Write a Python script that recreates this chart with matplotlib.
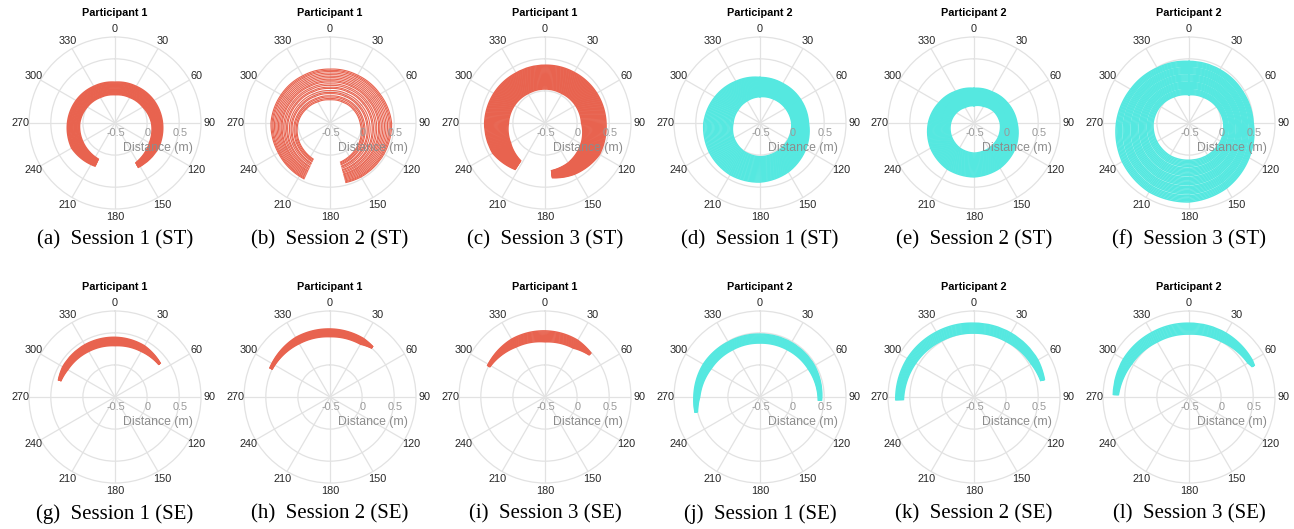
import numpy as np
import matplotlib.pyplot as plt
from matplotlib.transforms import ScaledTranslation

plt.rcParams['font.family'] = ['Liberation Sans', 'DejaVu Sans']

red = '#E8634F'
cyan = '#55E8E0'

# lap positions across each band (0 = inner edge, 1 = outer edge)
laps_se = [0.0, 0.1, 0.2, 0.3, 0.4, 0.5, 0.6, 0.7, 0.8, 0.9, 1.0]
laps_a = [0.0, 0.07, 0.13, 0.2, 0.26, 0.33, 0.4, 0.46, 0.53, 0.6, 0.66, 0.73, 0.8, 0.86, 0.93, 1.0]
laps_b = [0.0, 0.04, 0.09, 0.13, 0.2, 0.24, 0.3, 0.37, 0.41, 0.47, 0.52, 0.58, 0.62,
          0.67, 0.72, 0.77, 0.82, 0.87, 0.92, 0.96, 1.0]
laps_wide = [0.0, 0.04, 0.08, 0.12, 0.16, 0.2, 0.24, 0.28, 0.32, 0.36, 0.4, 0.44, 0.48,
             0.52, 0.56, 0.6, 0.64, 0.68, 0.72, 0.76, 0.8, 0.84, 0.88, 0.92, 0.96, 1.0]
laps_f = [0.0, 0.03, 0.06, 0.09, 0.12, 0.15, 0.19, 0.22, 0.25, 0.28, 0.31, 0.34, 0.37,
          0.41, 0.44, 0.47, 0.5, 0.53, 0.56, 0.59, 0.63, 0.66, 0.69, 0.72, 0.75, 0.78,
          0.81, 0.85, 0.88, 0.91, 0.94, 0.97, 1.0]

# band edges (radius in m) at waypoint angles (deg, clockwise from north, unwrapped)
ang_a = [205, 240, 270, 300, 330, 360, 390, 420, 450, 480, 512]
in_a = [0.12, 0.08, 0.05, 0.0, -0.04, -0.06, -0.04, 0.0, 0.07, 0.12, 0.2]
out_a = [0.24, 0.28, 0.24, 0.2, 0.16, 0.136, 0.16, 0.2, 0.24, 0.28, 0.28]

ang_b = [205, 240, 270, 300, 330, 360, 390, 420, 450, 480, 510, 525]
in_b = [0.12, 0.06, 0.0, -0.07, -0.12, -0.14, -0.12, -0.08, -0.03, 0.04, 0.1, 0.13]
out_b = [0.46, 0.43, 0.42, 0.38, 0.35, 0.34, 0.36, 0.4, 0.46, 0.47, 0.47, 0.46]

ang_c = [213, 240, 270, 300, 330, 360, 390, 420, 450, 480, 510, 532]
in_c = [0.2, 0.12, 0.07, 0.05, 0.03, 0.03, 0.03, 0.05, 0.07, 0.15, 0.22, 0.25]
out_c = [0.36, 0.44, 0.44, 0.42, 0.4, 0.4, 0.41, 0.43, 0.45, 0.48, 0.42, 0.36]

ang_ring = [0, 30, 60, 90, 120, 150, 180, 210, 240, 270, 300, 330, 360]
in_d = [-0.09, -0.07, -0.04, -0.005, 0.01, 0.02, 0.026, 0.01, -0.03, -0.08, -0.1, -0.1, -0.09]
out_d = [0.21, 0.21, 0.23, 0.255, 0.32, 0.38, 0.42, 0.43, 0.41, 0.375, 0.31, 0.25, 0.21]

in_e = [-0.23, -0.2, -0.14, -0.09, -0.06, -0.04, -0.03, -0.05, -0.09, -0.135, -0.18, -0.22, -0.23]
out_e = [0.04, 0.06, 0.11, 0.17, 0.25, 0.31, 0.34, 0.33, 0.28, 0.21, 0.13, 0.07, 0.04]

in_f = [-0.06, -0.04, 0.0, 0.04, 0.07, 0.08, 0.08, 0.09, 0.08, 0.06, 0.02, -0.03, -0.06]
out_f = [0.46, 0.46, 0.47, 0.5, 0.58, 0.67, 0.73, 0.74, 0.7, 0.63, 0.55, 0.49, 0.46]

ang_g = [287, 300, 330, 360, 390, 413]
in_g = [0.38, 0.35, 0.32, 0.3, 0.32, 0.35]
out_g = [0.42, 0.44, 0.44, 0.43, 0.42, 0.38]

ang_h = [296, 330, 360, 390, 400]
in_h = [0.5, 0.46, 0.44, 0.45, 0.5]
out_h = [0.54, 0.57, 0.56, 0.55, 0.53]

ang_i = [299, 330, 360, 390, 406]
in_i = [0.48, 0.4, 0.36, 0.38, 0.45]
out_i = [0.52, 0.54, 0.53, 0.52, 0.49]

ang_j = [257, 270, 300, 330, 360, 390, 420, 453]
in_j = [0.5, 0.44, 0.38, 0.35, 0.34, 0.35, 0.37, 0.41]
out_j = [0.54, 0.53, 0.52, 0.49, 0.48, 0.48, 0.48, 0.46]

ang_k = [268, 300, 330, 360, 390, 420, 436]
in_k = [0.6, 0.55, 0.51, 0.495, 0.5, 0.53, 0.57]
out_k = [0.72, 0.7, 0.67, 0.65, 0.65, 0.65, 0.63]

ang_l = [272, 300, 330, 360, 390, 420, 424]
in_l = [0.6, 0.53, 0.49, 0.48, 0.5, 0.56, 0.59]
out_l = [0.68, 0.68, 0.66, 0.65, 0.65, 0.64, 0.63]

panels = [
    ('a', 1, 'Session 1 (ST)', red, ang_a, in_a, out_a, laps_a),
    ('b', 1, 'Session 2 (ST)', red, ang_b, in_b, out_b, laps_b),
    ('c', 1, 'Session 3 (ST)', red, ang_c, in_c, out_c, laps_wide),
    ('d', 2, 'Session 1 (ST)', cyan, ang_ring, in_d, out_d, laps_wide),
    ('e', 2, 'Session 2 (ST)', cyan, ang_ring, in_e, out_e, laps_wide),
    ('f', 2, 'Session 3 (ST)', cyan, ang_ring, in_f, out_f, laps_f),
    ('g', 1, 'Session 1 (SE)', red, ang_g, in_g, out_g, laps_se),
    ('h', 1, 'Session 2 (SE)', red, ang_h, in_h, out_h, laps_se),
    ('i', 1, 'Session 3 (SE)', red, ang_i, in_i, out_i, laps_se),
    ('j', 2, 'Session 1 (SE)', cyan, ang_j, in_j, out_j, laps_se),
    ('k', 2, 'Session 2 (SE)', cyan, ang_k, in_k, out_k, laps_se),
    ('l', 2, 'Session 3 (SE)', cyan, ang_l, in_l, out_l, laps_se),
]

r_ticks = [-0.5, 0, 0.5]
r_tick_labels = ['-0.5', '0', '0.5']
theta_ticks = list(range(0, 360, 30))

W, H = 1294, 529
R = 86                      # axes radius in pixels
col_x = [115, 330, 545, 760, 974, 1189]
row_y = [123, 397]
grid_c = '#e2e2e2'

fig = plt.figure(figsize=(W / 100, H / 100), dpi=100)

for i, (letter, part, sess, color, ang, r_in, r_out, laps) in enumerate(panels):
    row, col = divmod(i, 6)
    cx, cy = col_x[col], row_y[row]
    ax = fig.add_axes([(cx - R) / W, 1 - (cy + R) / H, 2 * R / W, 2 * R / H],
                      projection='polar')
    ax.set_theta_zero_location('N')
    ax.set_theta_direction(-1)
    ax.set_rlim(-0.5, 0.84)

    th = np.radians(ang)
    r_in = np.array(r_in)
    r_out = np.array(r_out)
    lw = 0.8 if letter == 'b' else 1.1
    for f in laps:
        ln, = ax.plot(th, r_in + f * (r_out - r_in), color=color, lw=lw)
        ln.get_path()._interpolation_steps = 16

    ax.set_thetagrids(theta_ticks, labels=[])
    ax.set_rticks([0, 0.5])
    ax.set_yticklabels([])
    ax.grid(color=grid_c, lw=0.9)
    ax.spines['polar'].set_color(grid_c)
    ax.spines['polar'].set_linewidth(0.9)
    ax.tick_params(length=0)

    # angle labels centred on a fixed circle outside the rim
    for t in theta_ticks:
        ax.text(np.radians(t), 0.97, str(t), ha='center', va='center',
                fontsize=7.8, color='#262626', clip_on=False)

    # radial labels along the 90 deg spoke, shifted below it
    shift = ScaledTranslation(0.01, -0.10, fig.dpi_scale_trans)
    for rv, lab in zip(r_ticks, r_tick_labels):
        ax.text(np.radians(90), rv, lab, ha='center', va='center',
                fontsize=7.8, color='#999999', transform=ax.transData + shift)
    ax.text(0.75, 0.355, 'Distance (m)', ha='center', va='center',
            fontsize=8.8, color='#8c8c8c', transform=ax.transAxes)

    fig.text(cx / W, 1 - (cy - 110) / H, f'Participant {part}', ha='center',
             va='center', fontsize=7.8, fontweight='bold')
    fig.text(cx / W, 1 - (cy + 117) / H, f'({letter})  {sess}', ha='center',
             va='center', fontsize=15, family='Liberation Serif')

plt.savefig('out.png', dpi=100)
